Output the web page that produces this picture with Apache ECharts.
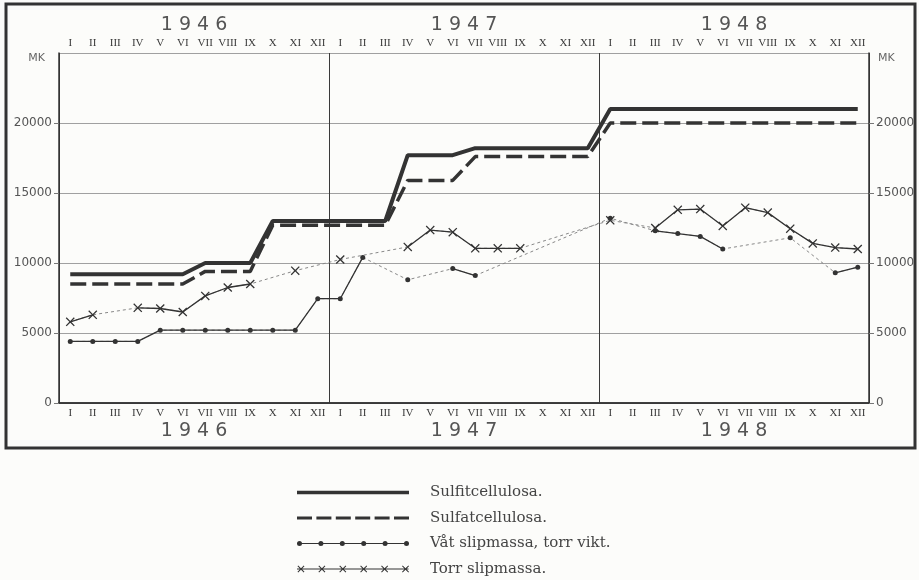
<!DOCTYPE html>
<html>
<head>
<meta charset="utf-8">
<title>Massapriser 1946–1948</title>
<script src="https://cdn.jsdelivr.net/npm/echarts@6/dist/echarts.min.js"></script>
<style>
  html, body { margin: 0; padding: 0; background: #fcfcfa; }
  #chart { width: 919px; height: 580px; }
</style>
</head>
<body>
<div id="chart"></div>
<script>
// axlarnas etiketter
const years = ['1946', '1947', '1948'];
const monthLabels = ['I', 'II', 'III', 'IV', 'V', 'VI', 'VII', 'VIII', 'IX', 'X', 'XI', 'XII'];
const categories = years.flatMap(y => monthLabels.map(m => y + '-' + m));
const yTicks = { min: 0, max: 25000, step: 5000 };

// pris i mk per ton, en punkt per månad (null = ingen notering)
const sulfit = [
  9200, 9200, 9200, 9200, 9200, 9200, 10000, 10000, 10000, 13000, 13000, 13000,
  13000, 13000, 13000, 17700, 17700, 17700, 18200, 18200, 18200, 18200, 18200, 18200,
  21000, 21000, 21000, 21000, 21000, 21000, 21000, 21000, 21000, 21000, 21000, 21000
];
const sulfat = [
  8500, 8500, 8500, 8500, 8500, 8500, 9400, 9400, 9400, 12700, 12700, 12700,
  12700, 12700, 12700, 15900, 15900, 15900, 17600, 17600, 17600, 17600, 17600, 17600,
  20000, 20000, 20000, 20000, 20000, 20000, 20000, 20000, 20000, 20000, 20000, 20000
];
const vatSlip = [
  4400, 4400, 4400, 4400, 5200, 5200, 5200, 5200, 5200, 5200, 5200, 7450,
  7450, 10400, null, 8800, null, 9600, 9100, null, null, null, null, null,
  13200, null, 12300, 12100, 11900, 11000, null, null, 11800, null, 9300, 9700
];
const torrSlip = [
  5800, 6300, null, 6800, 6750, 6500, 7650, 8250, 8500, null, 9450, null,
  10250, null, null, 11150, 12350, 12200, 11050, 11050, 11050, null, null, null,
  13050, null, 12500, 13800, 13850, 12650, 13950, 13600, 12450, 11400, 11100, 11000
];

const names = ['Sulfitcellulosa.', 'Sulfatcellulosa.', 'Våt slipmassa, torr vikt.', 'Torr slipmassa.'];

// symboler
const crossSymbol = 'path://M1,0 L5,4 L9,0 L10,1 L6,5 L10,9 L9,10 L5,6 L1,10 L0,9 L4,5 L0,1 Z';

// legendikoner (112 px breda)
const solidIcon = 'path://M0,0 L112,0 L112,3.5 L0,3.5 Z';

const dashIcon = (() => {
  let p = '';
  for (let i = 0; i < 6; i++) {
    const x0 = i * 19.4;
    p += ` M${x0},0 L${x0 + 15},0 L${x0 + 15},3.2 L${x0},3.2 Z`;
  }
  return 'path://' + p.trim();
})();

const dotIcon = (() => {
  let p = 'M0,3.5 L112,3.5 L112,4.5 L0,4.5 Z';
  for (let i = 0; i < 6; i++) {
    const cx = 2.5 + i * 21.4;
    p += ` M${cx - 2.5},4 A2.5,2.5 0 1,1 ${cx + 2.5},4 A2.5,2.5 0 1,1 ${cx - 2.5},4 Z`;
  }
  return 'path://' + p;
})();

const crossIcon = (() => {
  let p = 'M0,3.5 L112,3.5 L112,4.5 L0,4.5 Z';
  for (let i = 0; i < 6; i++) {
    const x = i * 21.0 + 0.5, y = 0.5;
    const s = 0.7;
    const pts = [[1,0],[5,4],[9,0],[10,1],[6,5],[10,9],[9,10],[5,6],[1,10],[0,9],[4,5],[0,1]];
    p += ' M' + pts.map(q => `${(x + q[0] * s).toFixed(2)},${(y + q[1] * s).toFixed(2)}`).join(' L') + ' Z';
  }
  return 'path://' + p;
})();

const ink = '#333';

const monthAxis = (position) => ({
  type: 'category',
  data: categories,
  position: position,
  boundaryGap: true,
  axisLine: { lineStyle: { color: ink, width: 1.5 } },
  axisTick: { inside: true, length: 3, interval: 0, lineStyle: { color: '#555' } },
  axisLabel: {
    interval: 0,
    margin: position === 'top' ? 4 : 5,
    formatter: v => v.split('-')[1],
    fontFamily: 'Liberation Serif',
    fontSize: 11,
    color: '#3a3a3a'
  },
  splitLine: {
    show: position === 'bottom',
    interval: (i) => i % 12 === 0,
    lineStyle: { color: '#3a3a3a', width: 1 }
  }
});

const yearAxis = (position, offset) => ({
  type: 'category',
  data: years,
  position: position,
  offset: offset,
  boundaryGap: true,
  axisLine: { show: false },
  axisTick: { show: false },
  axisLabel: {
    margin: 4,
    formatter: v => v.split('').join(' '),
    fontFamily: 'DejaVu Sans',
    fontSize: 19,
    color: '#555'
  }
});

const valueAxis = (position) => ({
  type: 'value',
  position: position,
  min: yTicks.min,
  max: yTicks.max,
  interval: yTicks.step,
  name: 'MK',
  nameLocation: 'end',
  nameGap: -11,
  nameTextStyle: {
    align: position === 'left' ? 'right' : 'left',
    padding: position === 'left' ? [0, 14, 0, 0] : [0, 0, 0, 9],
    fontFamily: 'DejaVu Sans',
    fontSize: 11,
    color: '#666'
  },
  axisLine: { show: true, lineStyle: { color: ink, width: 1.5 } },
  axisTick: { show: true, length: 5, lineStyle: { color: '#777' } },
  axisLabel: {
    showMaxLabel: false,
    margin: 7,
    formatter: v => String(v),
    fontFamily: 'DejaVu Sans',
    fontSize: 12,
    color: '#555'
  },
  splitLine: { show: position === 'left', lineStyle: { color: '#a0a0a0', width: 1 } }
});

// tunn streckad linje över luckor i serien
const gapLine = (data) => ({
  type: 'line',
  data: data,
  connectNulls: true,
  symbol: 'none',
  silent: true,
  z: 1,
  lineStyle: { color: '#888', width: 1, type: [3, 3] }
});

const chart = echarts.init(document.getElementById('chart'), null, { renderer: 'canvas' });

const legendItem = (name, icon) => ({ name, icon, itemStyle: { color: ink, borderWidth: 0 } });

const option = {
  backgroundColor: '#fcfcfa',
  animation: false,
  grid: { left: 59, right: 50, top: 53, bottom: 177 },
  graphic: [{
    type: 'rect',
    shape: { x: 6, y: 4, width: 909, height: 444 },
    style: { fill: 'none', stroke: '#333', lineWidth: 3 },
    silent: true
  }],
  legend: {
    orient: 'vertical',
    left: 297,
    top: 484,
    padding: 0,
    itemWidth: 112,
    itemHeight: 12,
    itemGap: 8.5,
    selectedMode: false,
    textStyle: {
      fontFamily: 'DejaVu Serif',
      fontSize: 15,
      lineHeight: 17,
      color: '#444',
      padding: [0, 0, 0, 16]
    },
    data: [
      legendItem(names[0], solidIcon),
      legendItem(names[1], dashIcon),
      legendItem(names[2], dotIcon),
      legendItem(names[3], crossIcon)
    ]
  },
  xAxis: [
    monthAxis('bottom'),
    monthAxis('top'),
    yearAxis('bottom', 15),
    yearAxis('top', 14)
  ],
  yAxis: [valueAxis('left'), valueAxis('right')],
  series: [
    {
      name: names[0],
      type: 'line',
      data: sulfit,
      symbol: 'none',
      color: ink,
      z: 3,
      lineStyle: { color: ink, width: 4 }
    },
    {
      name: names[1],
      type: 'line',
      data: sulfat,
      symbol: 'none',
      color: ink,
      z: 3,
      lineStyle: { color: ink, width: 3.5, type: [16, 6] }
    },
    gapLine(vatSlip),
    {
      name: names[2],
      type: 'line',
      data: vatSlip,
      connectNulls: false,
      symbol: 'circle',
      symbolSize: 5,
      color: ink,
      z: 3,
      itemStyle: { color: ink },
      lineStyle: { color: ink, width: 1.3 }
    },
    gapLine(torrSlip),
    {
      name: names[3],
      type: 'line',
      data: torrSlip,
      connectNulls: false,
      symbol: crossSymbol,
      symbolSize: 9,
      color: ink,
      z: 3,
      itemStyle: { color: ink },
      lineStyle: { color: ink, width: 1.3 }
    }
  ]
};

chart.setOption(option);
window.addEventListener('resize', () => chart.resize());
</script>
</body>
</html>
